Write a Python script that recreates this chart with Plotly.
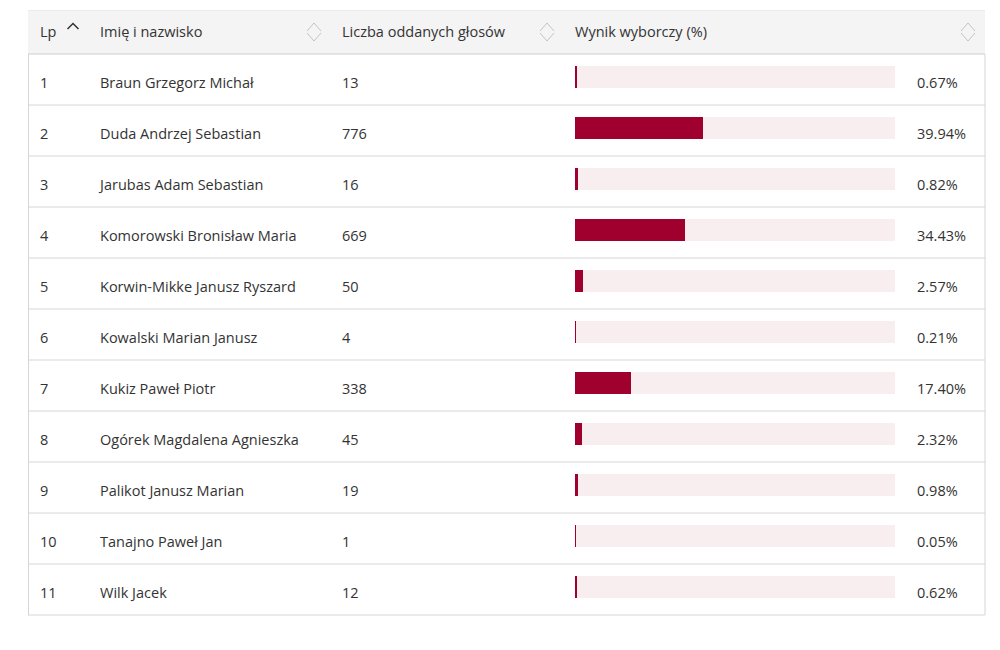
import plotly.graph_objects as go

# ---- data ----
lp = ["1", "2", "3", "4", "5", "6", "7", "8", "9", "10", "11"]
names = ["Braun Grzegorz Michał", "Duda Andrzej Sebastian", "Jarubas Adam Sebastian",
         "Komorowski Bronisław Maria", "Korwin-Mikke Janusz Ryszard", "Kowalski Marian Janusz",
         "Kukiz Paweł Piotr", "Ogórek Magdalena Agnieszka", "Palikot Janusz Marian",
         "Tanajno Paweł Jan", "Wilk Jacek"]
votes = [13, 776, 16, 669, 50, 4, 338, 45, 19, 1, 12]
pct = [0.67, 39.94, 0.82, 34.43, 2.57, 0.21, 17.40, 2.32, 0.98, 0.05, 0.62]
headers = ["Lp", "Imię i nazwisko", "Liczba oddanych głosów", "Wynik wyborczy (%)"]

W, H = 1000, 650
FONT = "Open Sans"
FS = 14.5
TXT = "#333333"
BAR = "#a0002d"
TRACK = "#f8edef"
ROW_H = 51.0
BAR_C0 = 77.0  # pixel centre of first bar
n = len(names)
rows = list(range(n))

def py(p):
    return 1 - p / H

y_top = -BAR_C0 / ROW_H
y_bot = y_top + H / ROW_H

fig = go.Figure()

# track bars
fig.add_trace(go.Bar(x=[100] * n, y=rows, orientation="h", xaxis="x2", yaxis="y",
                     marker=dict(color=TRACK, line=dict(width=0)), width=22 / ROW_H,
                     hoverinfo="skip", showlegend=False))
# value bars
fig.add_trace(go.Bar(x=pct, y=rows, orientation="h", xaxis="x2", yaxis="y",
                     marker=dict(color=BAR, line=dict(width=0)), width=22 / ROW_H,
                     hoverinfo="skip", showlegend=False))

ty = [r + 7.0 / ROW_H for r in rows]
cols = [(40, lp), (100, names), (342, [str(v) for v in votes]),
        (917, [f"{p:.2f}%" for p in pct])]
for x0, labels in cols:
    fig.add_trace(go.Scatter(x=[x0] * n, y=ty, mode="text", text=labels,
                             textposition="middle right", xaxis="x", yaxis="y",
                             textfont=dict(family=FONT, size=FS, color=TXT),
                             hoverinfo="skip", showlegend=False, cliponaxis=False))

shapes = []
# header background
shapes.append(dict(type="rect", xref="x", yref="paper", x0=28, x1=985, y0=py(10), y1=py(54),
                   fillcolor="#f4f4f4", line=dict(width=0), layer="below"))
shapes.append(dict(type="line", xref="x", yref="paper", x0=28, x1=985, y0=py(10.5), y1=py(10.5),
                   line=dict(color="#ebebeb", width=1)))
# header bottom line
shapes.append(dict(type="line", xref="x", yref="paper", x0=28, x1=985, y0=py(54), y1=py(54),
                   line=dict(color="#cfcfcf", width=1)))
# row separators
for i in range(n):
    yy = 105 + ROW_H * i
    shapes.append(dict(type="line", xref="x", yref="paper", x0=28, x1=985, y0=py(yy), y1=py(yy),
                       line=dict(color="#d6d6d6", width=1)))
# left/right borders
for xx in (28.5, 985):
    shapes.append(dict(type="line", xref="x", yref="paper", x0=xx, x1=xx, y0=py(54), y1=py(615),
                       line=dict(color="#d6d6d6", width=1)))

# sort indicator (active, up) on Lp
shapes.append(dict(type="path", xref="x", yref="paper",
                   path=f"M 67.5 {py(29)} L 73 {py(23.5)} L 78.5 {py(29)}",
                   line=dict(color="#333333", width=1.5)))
# inactive sort icons
for cx in (314, 547, 968):
    shapes.append(dict(type="path", xref="x", yref="paper",
                       path=f"M {cx-7} {py(31)} L {cx} {py(23)} L {cx+7} {py(31)}",
                       line=dict(color="#c4c4c4", width=1)))
    shapes.append(dict(type="path", xref="x", yref="paper",
                       path=f"M {cx-7} {py(33)} L {cx} {py(41)} L {cx+7} {py(33)}",
                       line=dict(color="#c4c4c4", width=1)))

annotations = []
for x0, h in zip([38, 98, 340, 573], headers):
    annotations.append(dict(x=x0, y=py(32), xref="x", yref="paper", text=h, showarrow=False,
                            xanchor="left", yanchor="middle",
                            font=dict(family=FONT, size=FS, color=TXT)))

fig.update_layout(
    width=W, height=H, margin=dict(l=0, r=0, t=0, b=0),
    paper_bgcolor="white", plot_bgcolor="rgba(0,0,0,0)",
    barmode="overlay", bargap=0,
    xaxis=dict(range=[0, W], domain=[0, 1], visible=False, fixedrange=True),
    xaxis2=dict(range=[0, 100], domain=[0.575, 0.895], anchor="y", visible=False, fixedrange=True),
    yaxis=dict(range=[y_bot, y_top], domain=[0, 1], visible=False, fixedrange=True),
    shapes=shapes, annotations=annotations, showlegend=False,
)

fig.write_html("out.html", config={"displayModeBar": False},
               post_script="document.body.style.margin='0';document.body.style.overflow='hidden';")
